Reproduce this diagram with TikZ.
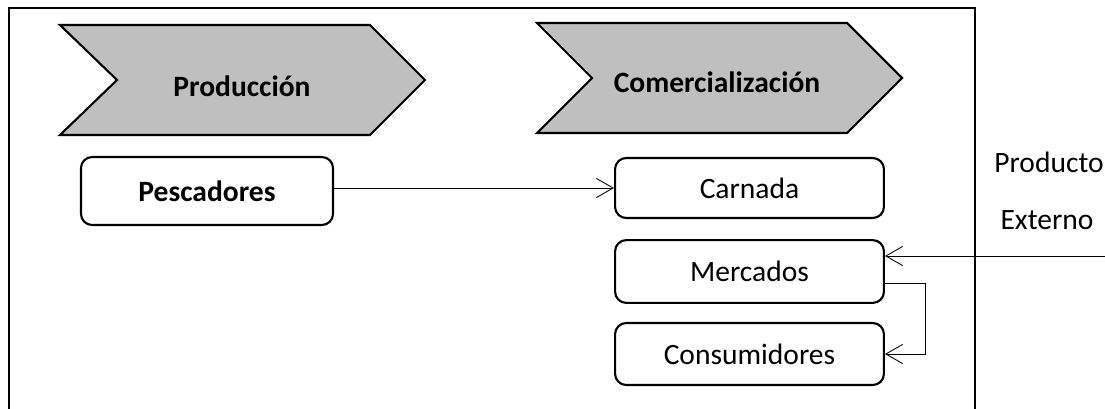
\documentclass[tikz,border=0pt]{standalone}
\usepackage{fontspec}
\setmainfont{Carlito}
\usetikzlibrary{arrows.meta}

\tikzset{
	box/.style={draw=black, line width=1.5pt, rounded corners=0.28cm, fill=white, align=center},
	arr/.style={line width=0.6pt, -{Straight Barb[length=0.42cm, width=0.48cm, line width=0.6pt]}},
	stage/.style={draw=black, line width=1.5pt, fill=black!25}
}

\begin{document}
\begin{tikzpicture}
	[
	x=0.025cm, y=-0.025cm,
	font=\fontsize{21}{25}\selectfont
	]
		\useasboundingbox (0,0) rectangle (1105,408);
		
		% frame
		\draw [line width=2.1pt] (9,412) -- (9,8) -- (975,8) -- (975,412);
		
		% stages
		\draw [stage] (60,25) -- (370,25) -- (425,80) -- (370,135) -- (60,135) -- (117,80) -- cycle;
		\draw [stage] (537,23) -- (847,23) -- (902,78) -- (847,133) -- (537,133) -- (592,78) -- cycle;
		\node (prod) at (242,86) {\textbf{Producción}};
		\node (com) at (717,82) {\textbf{Comercialización}};
		
		% actors
		\node [box, minimum width=6.3cm, minimum height=1.7cm] (pesc) at (207,191) {\textbf{Pescadores}};
		\node [box, minimum width=6.72cm, minimum height=1.5cm] (carn) at (749.5,188) {Carnada};
		\node [box, minimum width=6.72cm, minimum height=1.57cm] (merc) at (749.5,271.5) {Mercados};
		\node [box, minimum width=6.72cm, minimum height=1.55cm] (cons) at (749.5,354) {Consumidores};
		
		% outside
		\node (prodext) at (1049,162) {Producto};
		\node (ext) at (1047,220) {Externo};
		\coordinate (extin) at (1105,256);
		\coordinate (bend) at (925,283);
		
		% drawing code
		\draw [arr] (pesc.east |- carn.west) -- (carn.west);
		\draw [arr] (extin) -- (extin -| merc.east);
		\draw [arr] (bend -| merc.east) -- (bend) |- (cons.east);
	\end{tikzpicture}
\end{document}
